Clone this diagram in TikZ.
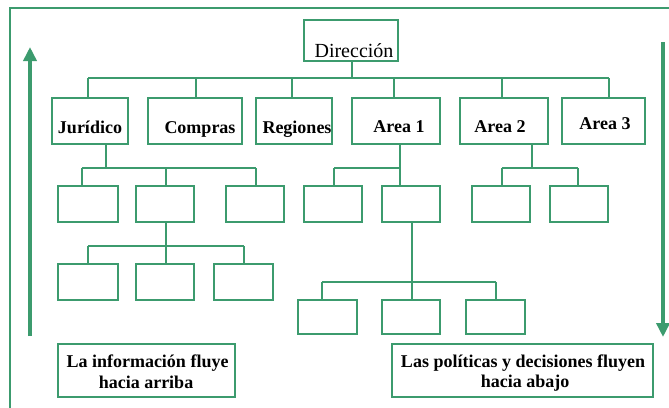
\documentclass[tikz,border=0pt]{standalone}
\usepackage{fontspec}
\setmainfont{Liberation Serif}
\usetikzlibrary{arrows.meta}
\definecolor{g}{RGB}{60,155,110}
\begin{document}
\begin{tikzpicture}[x=1pt,y=-1pt,
  box/.style={draw=g, line width=2pt, rectangle, inner sep=0pt, fill=white},
  conn/.style={draw=g, line width=2pt},
  lbl/.style={inner sep=0pt, anchor=base, font=\fontsize{18}{22}\selectfont\bfseries},
  arr/.style={draw=g, fill=g, line width=4.5pt, -{Triangle[width=13pt,length=14pt]}}]
\useasboundingbox (0,0) rectangle (669,407);
\clip (0,0) rectangle (669,407);
% outer frame
\coordinate (fbl) at (10,420);
\coordinate (ftl) at (10,8);
\coordinate (ftr) at (680,8);
\draw[draw=g, line width=2pt] (fbl) -- (ftl) -- (ftr);
% arrows
\coordinate (la0) at (30,336); \coordinate (la1) at (30,47);
\coordinate (ra0) at (663,42); \coordinate (ra1) at (663,337);
\draw[arr] (la0) -- (la1);
\draw[arr] (ra0) -- (ra1);
% top
\node[box, minimum width=94pt, minimum height=41pt] (dir) at (351,40.5) {};
\node[inner sep=0pt, anchor=base, font=\fontsize{20}{22}\selectfont] (dirt) at (354,57) {Dirección};
% level 1
\node[box, minimum width=76pt, minimum height=46pt] (jur) at (90,121) {};
\node[box, minimum width=94pt, minimum height=46pt] (com) at (195,121) {};
\node[box, minimum width=76pt, minimum height=46pt] (reg) at (294,121) {};
\node[box, minimum width=88pt, minimum height=46pt] (a1) at (396,121) {};
\node[box, minimum width=88pt, minimum height=46pt] (a2) at (504,121) {};
\node[box, minimum width=83pt, minimum height=46pt] (a3) at (603.5,121) {};
\node[lbl] (jurt) at (90,133) {Jurídico};
\node[lbl] (comt) at (200,133) {Compras};
\node[lbl] (regt) at (297,133) {Regiones};
\node[lbl] (a1t) at (399,132) {Area 1};
\node[lbl] (a2t) at (500,132) {Area 2};
\node[lbl] (a3t) at (605,129) {Area 3};
% level 2
\foreach \n/\x/\w in {j1/88/60, j2/165/58, j3/255/58, a11/333/58, a12/411/58, a21/501/58, a22/579/58}
  \node[box, minimum width=\w pt, minimum height=36pt] (\n) at (\x,204) {};
% level 3
\foreach \n/\x/\w in {d1/88/60, d2/165/58, d3/243.5/59}
  \node[box, minimum width=\w pt, minimum height=36pt] (\n) at (\x,282) {};
\foreach \n/\x/\w in {b1/327.5/59, b2/411/58, b3/495.5/59}
  \node[box, minimum width=\w pt, minimum height=34pt] (\n) at (\x,317) {};
% bottom text boxes
\node[box, minimum width=177pt, minimum height=53pt] (tl) at (146.5,370.5) {};
\node[box, minimum width=261pt, minimum height=53pt] (tr) at (522.5,370.5) {};
\node[lbl] (tl1) at (147.5,367) {La información fluye};
\node[lbl] (tl2) at (146,388) {hacia arriba};
\node[lbl] (tr1) at (523,367) {Las políticas y decisiones fluyen};
\node[lbl] (tr2) at (525,387) {hacia abajo};
% connectors level 0 -> 1
\draw[conn] (dir.south -| 352,0) -- (352,78);
\draw[conn] (88,78) -- (609,78);
\draw[conn] (88,78) -- (jur.north -| 88,0);
\draw[conn] (196,78) -- (com.north -| 196,0);
\draw[conn] (292,78) -- (reg.north -| 292,0);
\draw[conn] (394,78) -- (a1.north -| 394,0);
\draw[conn] (502,78) -- (a2.north -| 502,0);
\draw[conn] (609,78) -- (a3.north -| 609,0);
% Juridico children
\draw[conn] (jur.south -| 106,0) -- (106,168);
\draw[conn] (82,168) -- (256,168);
\draw[conn] (82,168) -- (j1.north -| 82,0);
\draw[conn] (166,168) -- (j2.north -| 166,0);
\draw[conn] (256,168) -- (j3.north -| 256,0);
% j2 children
\draw[conn] (j2.south -| 166,0) -- (d2.north -| 166,0);
\draw[conn] (88,246) -- (244,246);
\draw[conn] (88,246) -- (d1.north -| 88,0);
\draw[conn] (244,246) -- (d3.north -| 244,0);
% Area 1 children
\draw[conn] (a1.south -| 400,0) -- (a12.north -| 400,0);
\draw[conn] (334,168) -- (400,168);
\draw[conn] (334,168) -- (a11.north -| 334,0);
% a12 children
\draw[conn] (a12.south -| 412,0) -- (b2.north -| 412,0);
\draw[conn] (322,282) -- (496,282);
\draw[conn] (322,282) -- (b1.north -| 322,0);
\draw[conn] (496,282) -- (b3.north -| 496,0);
% Area 2 children
\draw[conn] (a2.south -| 532,0) -- (532,168);
\draw[conn] (502,168) -- (578,168);
\draw[conn] (502,168) -- (a21.north -| 502,0);
\draw[conn] (578,168) -- (a22.north -| 578,0);
\end{tikzpicture}
\end{document}
